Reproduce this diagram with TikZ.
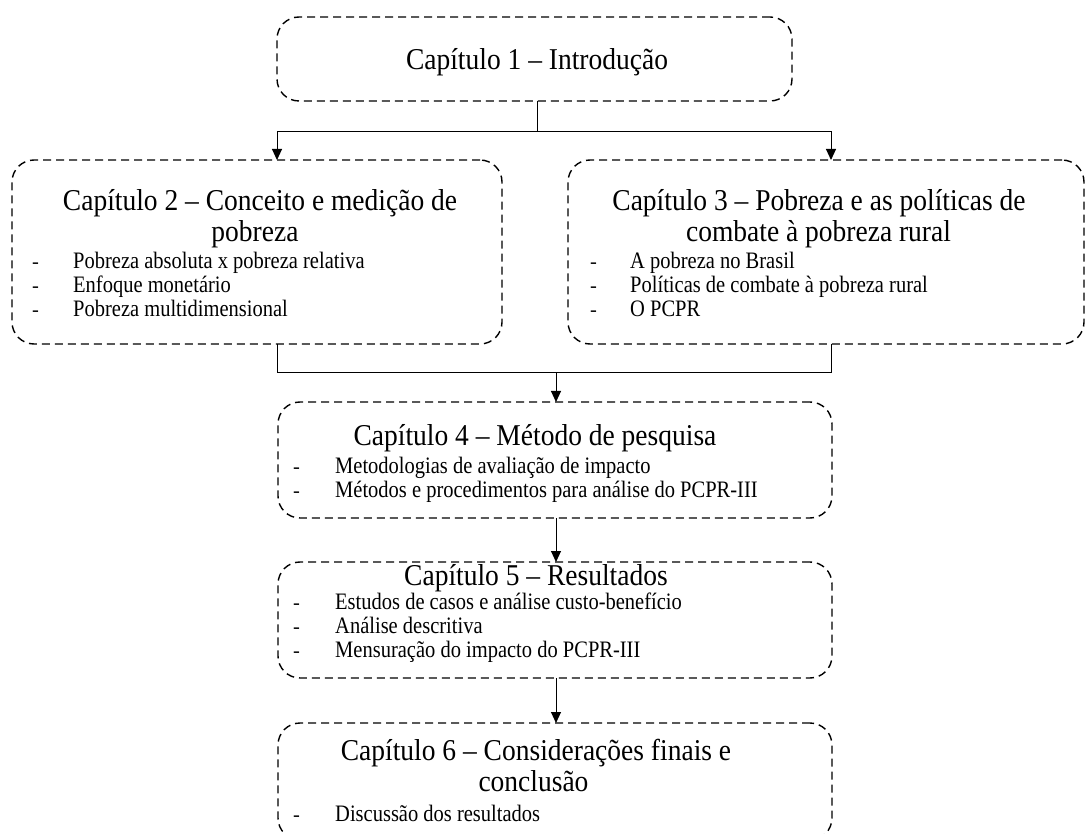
\documentclass[tikz,border=0pt]{standalone}
\usepackage{fontspec}
\setmainfont{Liberation Serif}
\usetikzlibrary{arrows.meta}
\newcommand{\mytitle}[1]{\scalebox{1}[1.1]{#1}}
\newcommand{\myitem}[2]{\makebox[#1][l]{-}\scalebox{1}[1.15]{#2}}
\begin{document}
\begin{tikzpicture}[x=1pt,y=-1pt,
  chap/.style={draw, dash pattern=on 8pt off 5pt, line width=1.4pt, rounded corners=22pt, inner sep=0pt, outer sep=0pt},
  ttl/.style={anchor=base, inner sep=0pt, font=\fontsize{27.5}{31}\selectfont},
  itm/.style={anchor=base west, inner sep=0pt, font=\fontsize{20.5}{24}\selectfont},
  link/.style={line width=1pt},
  arr/.style={link, -{Triangle[length=11pt,width=10pt]}}]
\useasboundingbox (0,0) rectangle (1085,834);

% boxes
\node[chap, minimum width=515pt, minimum height=84pt] (b1) at (534.5,59) {};
\node[chap, minimum width=490pt, minimum height=184pt] (b2) at (257,252) {};
\node[chap, minimum width=516pt, minimum height=184pt] (b3) at (826,252) {};
\node[chap, minimum width=554pt, minimum height=116pt] (b4) at (555,460) {};
\node[chap, minimum width=554pt, minimum height=116pt] (b5) at (555,620) {};
\node[chap, minimum width=554pt, minimum height=117pt] (b6) at (555,781.5) {};

% box 1
\node[ttl] (t1) at (537,70) {\mytitle{Capítulo 1 – Introdução}};

% box 2
\node[ttl] (t2a) at (260,211) {\mytitle{Capítulo 2 – Conceito e medição de}};
\node[ttl] (t2b) at (255,242) {\mytitle{pobreza}};
\node[itm] (i2a) at (32,269) {\myitem{41pt}{Pobreza absoluta x pobreza relativa}};
\node[itm] (i2b) at (32,293) {\myitem{41pt}{Enfoque monetário}};
\node[itm] (i2c) at (32,317) {\myitem{41pt}{Pobreza multidimensional}};

% box 3
\node[ttl] (t3a) at (819,211) {\mytitle{Capítulo 3 – Pobreza e as políticas de}};
\node[ttl] (t3b) at (818.5,242) {\mytitle{combate à pobreza rural}};
\node[itm] (i3a) at (590,268.5) {\myitem{40pt}{A pobreza no Brasil}};
\node[itm] (i3b) at (590,293) {\myitem{40pt}{Políticas de combate à pobreza rural}};
\node[itm] (i3c) at (590,317) {\myitem{40pt}{O PCPR}};

% box 4
\node[ttl] (t4) at (535,446) {\mytitle{Capítulo 4 – Método de pesquisa}};
\node[itm] (i4a) at (293,473) {\myitem{42pt}{Metodologias de avaliação de impacto}};
\node[itm] (i4b) at (293,497) {\myitem{42pt}{Métodos e procedimentos para análise do PCPR-III}};

% box 5
\node[ttl] (t5) at (536,585) {\mytitle{Capítulo 5 – Resultados}};
\node[itm] (i5a) at (293,609) {\myitem{42pt}{Estudos de casos e análise custo-benefício}};
\node[itm] (i5b) at (293,633) {\myitem{42pt}{Análise descritiva}};
\node[itm] (i5c) at (293,657) {\myitem{42pt}{Mensuração do impacto do PCPR-III}};

% box 6
\node[ttl] (t6a) at (536,760) {\mytitle{Capítulo 6 – Considerações finais e}};
\node[ttl] (t6b) at (533.5,791) {\mytitle{conclusão}};
\node[itm] (i6a) at (293,821) {\myitem{42pt}{Discussão dos resultados}};

% connectors
\coordinate (j1) at (537,132);
\coordinate (l1) at (277,132);
\coordinate (r1) at (831,132);
\draw[link] (b1.south -| j1) -- (j1);
\draw[arr] (j1) -- (l1) -- (b2.north -| l1);
\draw[arr] (j1) -- (r1) -- (b3.north -| r1);

\coordinate (l2) at (277,373);
\coordinate (r2) at (831,373);
\coordinate (j2) at (556,373);
\draw[link] (b2.south -| l2) -- (l2) -- (r2) -- (b3.south -| r2);
\draw[arr] (j2) -- (b4.north -| j2);
\draw[arr] (b4.south -| j2) -- (b5.north -| j2);
\draw[arr] (b5.south -| j2) -- (b6.north -| j2);
\end{tikzpicture}
\end{document}
